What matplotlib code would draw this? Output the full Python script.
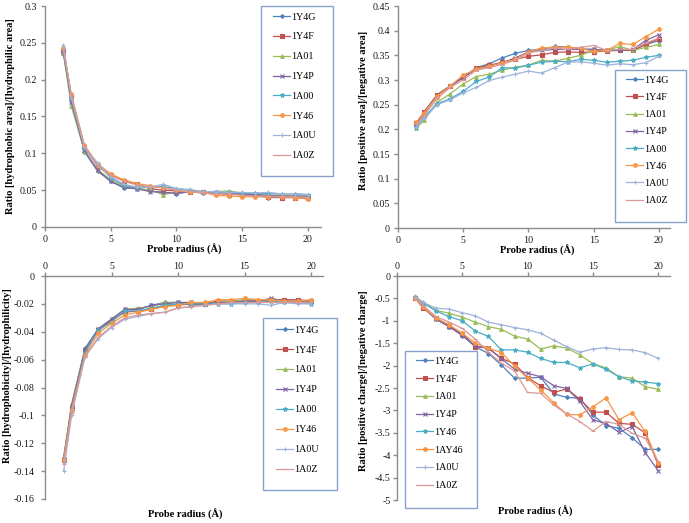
import matplotlib
matplotlib.use("Agg")
import matplotlib.pyplot as plt
from matplotlib.patches import Rectangle
from matplotlib.ticker import FuncFormatter, MultipleLocator

plt.rcParams['font.family'] = 'serif'
plt.rcParams['font.serif'] = ['Liberation Serif', 'Times New Roman', 'DejaVu Serif']

# ---------------- data ----------------
radius = [1.4, 2, 3, 4, 5, 6, 7, 8, 9, 10, 11, 12, 13, 14, 15, 16, 17, 18, 19, 20]

names_a = ["1Y4G", "1Y4F", "1A01", "1Y4P", "1A00", "1Y46", "1A0U", "1A0Z"]
names_d = ["1Y4G", "1Y4F", "1A01", "1Y4P", "1Y46", "1AY46", "1A0U", "1A0Z"]

# Panel A: Ratio [hydrophobic area]/[hydrophilic area]
hpb_1Y4G = [0.235, 0.172, 0.102, 0.076, 0.062, 0.053, 0.052, 0.049, 0.047, 0.045, 0.048, 0.046, 0.046, 0.046, 0.045, 0.043, 0.040, 0.040, 0.040, 0.040]
hpb_1Y4F = [0.240, 0.178, 0.108, 0.083, 0.070, 0.063, 0.058, 0.052, 0.050, 0.049, 0.047, 0.047, 0.046, 0.044, 0.044, 0.043, 0.041, 0.040, 0.040, 0.039]
hpb_1A01 = [0.236, 0.164, 0.103, 0.078, 0.064, 0.056, 0.053, 0.050, 0.044, 0.047, 0.049, 0.048, 0.048, 0.049, 0.046, 0.044, 0.043, 0.043, 0.042, 0.042]
hpb_1Y4P = [0.238, 0.170, 0.104, 0.077, 0.062, 0.054, 0.052, 0.048, 0.047, 0.046, 0.048, 0.047, 0.047, 0.046, 0.045, 0.044, 0.043, 0.042, 0.042, 0.042]
hpb_1A00 = [0.242, 0.175, 0.107, 0.085, 0.067, 0.057, 0.054, 0.054, 0.055, 0.052, 0.050, 0.048, 0.047, 0.047, 0.046, 0.046, 0.045, 0.045, 0.045, 0.044]
hpb_1Y46 = [0.243, 0.180, 0.111, 0.086, 0.072, 0.064, 0.059, 0.056, 0.053, 0.050, 0.047, 0.047, 0.043, 0.042, 0.041, 0.041, 0.041, 0.041, 0.040, 0.038]
hpb_1A0U = [0.247, 0.176, 0.108, 0.087, 0.068, 0.058, 0.054, 0.054, 0.058, 0.052, 0.051, 0.048, 0.048, 0.047, 0.047, 0.046, 0.047, 0.045, 0.045, 0.044]
hpb_1A0Z = [0.241, 0.180, 0.110, 0.082, 0.070, 0.062, 0.057, 0.055, 0.053, 0.050, 0.048, 0.047, 0.045, 0.045, 0.043, 0.042, 0.042, 0.041, 0.041, 0.040]

# Panel B: Ratio [positive area]/[negative area]
pos_1Y4G = [0.210, 0.235, 0.270, 0.288, 0.305, 0.325, 0.333, 0.345, 0.354, 0.360, 0.362, 0.368, 0.367, 0.363, 0.362, 0.360, 0.362, 0.360, 0.372, 0.380]
pos_1Y4F = [0.213, 0.235, 0.270, 0.288, 0.305, 0.324, 0.330, 0.336, 0.342, 0.348, 0.351, 0.356, 0.357, 0.356, 0.357, 0.359, 0.360, 0.360, 0.372, 0.384]
pos_1A01 = [0.203, 0.218, 0.255, 0.272, 0.292, 0.307, 0.312, 0.320, 0.326, 0.330, 0.340, 0.338, 0.344, 0.350, 0.360, 0.360, 0.368, 0.360, 0.366, 0.372]
pos_1Y4P = [0.210, 0.232, 0.268, 0.287, 0.306, 0.322, 0.328, 0.335, 0.345, 0.357, 0.360, 0.362, 0.362, 0.362, 0.362, 0.360, 0.360, 0.362, 0.380, 0.392]
pos_1A00 = [0.205, 0.225, 0.252, 0.262, 0.277, 0.297, 0.306, 0.325, 0.324, 0.330, 0.336, 0.338, 0.337, 0.342, 0.340, 0.336, 0.338, 0.340, 0.346, 0.350]
pos_1Y46 = [0.215, 0.233, 0.267, 0.288, 0.310, 0.322, 0.328, 0.335, 0.342, 0.357, 0.365, 0.366, 0.367, 0.364, 0.358, 0.360, 0.374, 0.372, 0.388, 0.403]
pos_1A0U = [0.205, 0.222, 0.250, 0.260, 0.274, 0.285, 0.299, 0.306, 0.312, 0.318, 0.314, 0.325, 0.336, 0.337, 0.334, 0.330, 0.333, 0.331, 0.335, 0.348]
pos_1A0Z = [0.210, 0.228, 0.262, 0.285, 0.300, 0.320, 0.325, 0.332, 0.340, 0.355, 0.360, 0.365, 0.362, 0.366, 0.370, 0.360, 0.362, 0.362, 0.375, 0.385]

# Panel C: Ratio [hydrophobicity]/[hydrophilicity]
hyd_1Y4G = [-0.131, -0.093, -0.052, -0.038, -0.031, -0.024, -0.024, -0.021, -0.019, -0.019, -0.021, -0.020, -0.019, -0.019, -0.018, -0.018, -0.017, -0.018, -0.019, -0.019]
hyd_1Y4F = [-0.132, -0.095, -0.054, -0.039, -0.032, -0.026, -0.025, -0.024, -0.021, -0.021, -0.020, -0.020, -0.018, -0.018, -0.018, -0.018, -0.017, -0.017, -0.017, -0.018]
hyd_1A01 = [-0.130, -0.092, -0.053, -0.038, -0.031, -0.024, -0.023, -0.022, -0.019, -0.019, -0.019, -0.020, -0.019, -0.018, -0.017, -0.017, -0.017, -0.018, -0.018, -0.018]
hyd_1Y4P = [-0.131, -0.093, -0.053, -0.038, -0.031, -0.024, -0.024, -0.021, -0.020, -0.019, -0.019, -0.020, -0.019, -0.019, -0.018, -0.018, -0.016, -0.018, -0.018, -0.018]
hyd_1A00 = [-0.133, -0.096, -0.055, -0.039, -0.033, -0.025, -0.025, -0.023, -0.021, -0.020, -0.020, -0.020, -0.020, -0.020, -0.019, -0.019, -0.018, -0.019, -0.019, -0.020]
hyd_1Y46 = [-0.132, -0.096, -0.057, -0.041, -0.034, -0.028, -0.026, -0.024, -0.022, -0.021, -0.019, -0.019, -0.017, -0.017, -0.016, -0.017, -0.017, -0.018, -0.018, -0.017]
hyd_1A0U = [-0.140, -0.100, -0.058, -0.045, -0.037, -0.031, -0.029, -0.027, -0.026, -0.023, -0.022, -0.021, -0.020, -0.020, -0.020, -0.020, -0.021, -0.019, -0.020, -0.020]
hyd_1A0Z = [-0.135, -0.098, -0.058, -0.044, -0.036, -0.030, -0.028, -0.027, -0.026, -0.023, -0.022, -0.021, -0.020, -0.019, -0.019, -0.019, -0.019, -0.019, -0.019, -0.019]

# Panel D: Ratio [positive charge]/[negative charge]
chg_1Y4G = [-0.48, -0.71, -0.97, -1.13, -1.33, -1.58, -1.73, -1.99, -2.28, -2.28, -2.26, -2.63, -2.71, -2.73, -3.10, -3.34, -3.40, -3.61, -3.87, -3.87]
chg_1Y4F = [-0.50, -0.71, -0.94, -1.12, -1.29, -1.58, -1.61, -1.84, -1.96, -2.27, -2.45, -2.60, -2.52, -2.75, -3.04, -3.04, -3.29, -3.31, -3.50, -4.22]
chg_1A01 = [-0.45, -0.59, -0.77, -0.83, -0.92, -1.03, -1.13, -1.19, -1.34, -1.41, -1.63, -1.56, -1.61, -1.76, -1.96, -2.05, -2.25, -2.28, -2.47, -2.53]
chg_1Y4P = [-0.48, -0.68, -0.96, -1.13, -1.32, -1.56, -1.61, -1.85, -2.08, -2.17, -2.25, -2.45, -2.51, -2.80, -3.21, -3.29, -3.49, -3.36, -3.94, -4.35]
chg_1Y46 = [-0.46, -0.61, -0.78, -0.91, -1.00, -1.23, -1.35, -1.65, -1.65, -1.70, -1.84, -1.93, -1.93, -2.05, -1.96, -2.08, -2.25, -2.34, -2.37, -2.40]
chg_1AY46 = [-0.50, -0.70, -0.94, -1.09, -1.28, -1.50, -1.61, -1.71, -2.01, -2.28, -2.54, -2.83, -3.09, -3.10, -2.92, -2.72, -3.21, -3.05, -3.47, -4.17]
chg_1A0U = [-0.46, -0.59, -0.72, -0.74, -0.82, -0.89, -1.03, -1.09, -1.15, -1.20, -1.28, -1.43, -1.58, -1.70, -1.63, -1.60, -1.64, -1.65, -1.71, -1.84]
chg_1A0Z = [-0.48, -0.66, -0.91, -1.03, -1.17, -1.41, -1.70, -1.95, -2.12, -2.60, -2.62, -2.88, -3.08, -3.25, -3.46, -3.25, -3.31, -3.51, -3.62, -4.14]

xlabel = "Probe radius (\u00c5)"
ylabels = ["Ratio [hydrophobic area]/[hydrophilic area]",
           "Ratio [positive area]/[negative area]",
           "Ratio [hydrophobicity]/[hydrophilicity]",
           "Ratio [positive charge]/[negative charge]"]

# ---------------- style ----------------
colors = ["#4F81BD", "#C0504D", "#9BBB59", "#8064A2", "#4BACC6", "#F79646", "#9DB3DA", "#DC9896"]
markers = ["D", "s", "^", "x", "*", "o", "+", "_"]
msizes = [2.0, 2.4, 2.6, 2.8, 3.2, 2.6, 3.4, 3.4]

W, H = 689, 523
fig = plt.figure(figsize=(W / 100, H / 100), dpi=100)
AXC = "#8c8c8c"
TICK_FS = 7.2
LAB_FS = 7.6
LEG_FS = 7.2


def axpos(l, r, t, b):
    return [l / W, 1 - b / H, (r - l) / W, (b - t) / H]


def fmt(v, pos):
    v = round(v, 4)
    if v == 0:
        return "0"
    return f"{v:g}"


panels = [
    dict(pos=(45, 321, 6, 227), xmax=21.0, ylim=(0, 0.3), step=0.05, top=False, ypad=3.2,
         series=[hpb_1Y4G, hpb_1Y4F, hpb_1A01, hpb_1Y4P, hpb_1A00, hpb_1Y46, hpb_1A0U, hpb_1A0Z],
         names=names_a, ylab_xy=(11, 116), xlab_xy=(184, 249),
         leg_rect=(261, 6, 333, 176), leg_x=273, leg_c=18, leg_ls=1.08),
    dict(pos=(398, 670, 6, 228), xmax=20.85, ylim=(0, 0.45), step=0.05, top=False, ypad=3.2,
         series=[pos_1Y4G, pos_1Y4F, pos_1A01, pos_1Y4P, pos_1A00, pos_1Y46, pos_1A0U, pos_1A0Z],
         names=names_a, ylab_xy=(364, 110), xlab_xy=(537, 250),
         leg_rect=(615, 70, 686, 222), leg_x=626, leg_c=81, leg_ls=0.82),
    dict(pos=(45, 323, 276, 499), xmax=20.9, ylim=(-0.16, 0), step=0.02, top=True, ypad=5.2,
         series=[hyd_1Y4G, hyd_1Y4F, hyd_1A01, hyd_1Y4P, hyd_1A00, hyd_1Y46, hyd_1A0U, hyd_1A0Z],
         names=names_a, ylab_xy=(8, 376), xlab_xy=(185, 514),
         leg_rect=(263, 318, 337, 490), leg_x=276, leg_c=331, leg_ls=1.09),
    dict(pos=(397, 670, 276, 500), xmax=20.9, ylim=(-5, 0), step=0.5, top=True, ypad=2.0,
         series=[chg_1Y4G, chg_1Y4F, chg_1A01, chg_1Y4P, chg_1Y46, chg_1AY46, chg_1A0U, chg_1A0Z],
         names=names_d, ylab_xy=(363, 381), xlab_xy=(535, 511),
         leg_rect=(405, 351, 477, 508), leg_x=416, leg_c=362, leg_ls=0.88),
]

for p, ylab in zip(panels, ylabels):
    ax = fig.add_axes(axpos(*p["pos"]))
    for vals, name, c, m, ms in zip(p["series"], p["names"], colors, markers, msizes):
        ax.plot(radius, vals, color=c, lw=0.9, marker=m, ms=ms, mew=0.8,
                mec=c, mfc=c, label=name, clip_on=False)
    ax.set_xlim(0, p["xmax"])
    ax.set_ylim(*p["ylim"])
    ax.xaxis.set_major_locator(MultipleLocator(5))
    ax.yaxis.set_major_locator(MultipleLocator(p["step"]))
    ax.yaxis.set_major_formatter(FuncFormatter(fmt))
    ax.xaxis.set_major_formatter(FuncFormatter(fmt))
    ax.spines["right"].set_visible(False)
    if p["top"]:
        ax.spines["bottom"].set_visible(False)
        ax.xaxis.tick_top()
        xpad = 1.2
    else:
        ax.spines["top"].set_visible(False)
        xpad = 3.5
    for s in ("left", "top", "bottom"):
        ax.spines[s].set_color(AXC)
        ax.spines[s].set_linewidth(1.0)
    ax.tick_params(axis="both", direction="out", length=2.6, width=1.0, color=AXC,
                   labelsize=TICK_FS, labelcolor="#1a1a1a")
    ax.tick_params(axis="x", pad=xpad)
    ax.tick_params(axis="y", pad=p["ypad"])
    ax.set_facecolor("none")

    ax.set_ylabel(ylab, fontsize=LAB_FS, fontweight="bold")
    ax.yaxis.set_label_coords(p["ylab_xy"][0] / W, 1 - p["ylab_xy"][1] / H, transform=fig.transFigure)
    ax.set_xlabel(xlabel, fontsize=LAB_FS, fontweight="bold")
    ax.xaxis.set_label_coords(p["xlab_xy"][0] / W, 1 - p["xlab_xy"][1] / H, transform=fig.transFigure)
    ax.xaxis.label.set_va("center")
    ax.yaxis.label.set_va("center")

    x0, y0, x1, y1 = p["leg_rect"]
    rect = Rectangle((x0 / W, 1 - y1 / H), (x1 - x0) / W, (y1 - y0) / H,
                     transform=fig.transFigure, facecolor="white", edgecolor="#86a2cc",
                     lw=1.0, clip_on=False, zorder=4)
    ax.add_patch(rect)
    leg = ax.legend(loc="upper left", bbox_to_anchor=(p["leg_x"] / W, 1 - (p["leg_c"] - 5.3) / H),
                    bbox_transform=fig.transFigure, frameon=False, fontsize=LEG_FS,
                    borderpad=0, borderaxespad=0, handlelength=1.7, handletextpad=0.15,
                    labelspacing=p["leg_ls"], markerscale=1.0)
    leg.set_zorder(5)

fig.savefig("out.png", dpi=100)
